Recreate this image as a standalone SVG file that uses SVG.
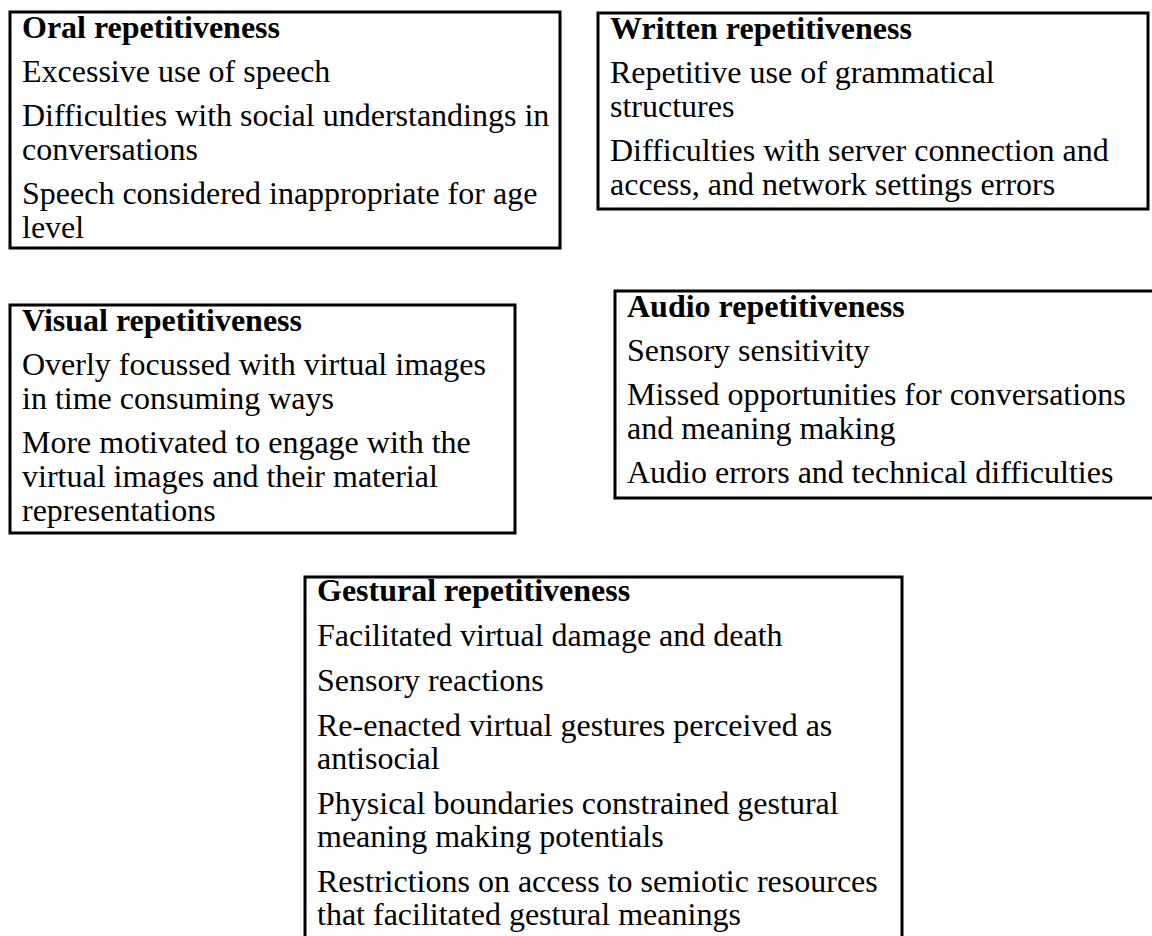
<svg xmlns="http://www.w3.org/2000/svg" width="1152" height="936" viewBox="0 0 1152 936">
  <style>
    .box { fill: #ffffff; stroke: #000000; stroke-width: 3; }
    .head { font-family: "Liberation Serif", "Times New Roman", serif; font-size: 32px; font-weight: bold; fill: #000000; }
    .item { font-family: "Liberation Serif", "Times New Roman", serif; font-size: 32px; fill: #000000; }
  </style>
  <rect x="0" y="0" width="1152" height="936" fill="#ffffff"/>

  <g id="oral">
    <rect class="box" x="10" y="12" width="550" height="236"/>
    <text class="head" x="22" y="38">Oral repetitiveness</text>
    <text class="item" x="22" y="82">Excessive use of speech</text>
    <text class="item" x="22" y="126">Difficulties with social understandings in</text>
    <text class="item" x="22" y="160">conversations</text>
    <text class="item" x="22" y="204">Speech considered inappropriate for age</text>
    <text class="item" x="22" y="238">level</text>
  </g>

  <g id="written">
    <rect class="box" x="598" y="13" width="550" height="196"/>
    <text class="head" x="610" y="39">Written repetitiveness</text>
    <text class="item" x="610" y="83">Repetitive use of grammatical</text>
    <text class="item" x="610" y="117">structures</text>
    <text class="item" x="610" y="161">Difficulties with server connection and</text>
    <text class="item" x="610" y="195">access, and network settings errors</text>
  </g>

  <g id="visual">
    <rect class="box" x="10" y="305" width="505" height="228"/>
    <text class="head" x="22" y="331">Visual repetitiveness</text>
    <text class="item" x="22" y="375">Overly focussed with virtual images</text>
    <text class="item" x="22" y="409">in time consuming ways</text>
    <text class="item" x="22" y="453">More motivated to engage with the</text>
    <text class="item" x="22" y="487">virtual images and their material</text>
    <text class="item" x="22" y="521">representations</text>
  </g>

  <g id="audio">
    <rect class="box" x="615" y="291" width="540" height="207"/>
    <text class="head" x="627" y="317">Audio repetitiveness</text>
    <text class="item" x="627" y="361">Sensory sensitivity</text>
    <text class="item" x="627" y="405">Missed opportunities for conversations</text>
    <text class="item" x="627" y="439">and meaning making</text>
    <text class="item" x="627" y="483">Audio errors and technical difficulties</text>
  </g>

  <g id="gestural">
    <rect class="box" x="305" y="577" width="597" height="370"/>
    <text class="head" x="317" y="601">Gestural repetitiveness</text>
    <text class="item" x="317" y="646">Facilitated virtual damage and death</text>
    <text class="item" x="317" y="691">Sensory reactions</text>
    <text class="item" x="317" y="736">Re-enacted virtual gestures perceived as</text>
    <text class="item" x="317" y="769">antisocial</text>
    <text class="item" x="317" y="814">Physical boundaries constrained gestural</text>
    <text class="item" x="317" y="847">meaning making potentials</text>
    <text class="item" x="317" y="892">Restrictions on access to semiotic resources</text>
    <text class="item" x="317" y="925">that facilitated gestural meanings</text>
  </g>

  <g id="connectors"/>
</svg>
